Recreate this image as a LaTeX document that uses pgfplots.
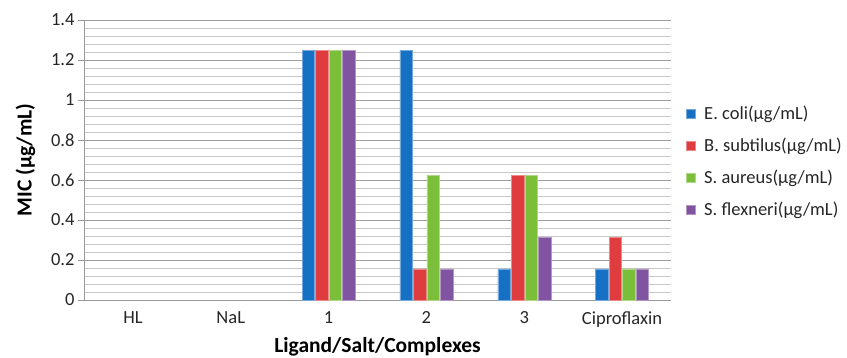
\documentclass[border=0pt]{standalone}
\usepackage{fontspec}
\setmainfont{Carlito}
\usepackage{pgfplots}
\pgfplotsset{compat=1.18}
\definecolor{cblue}{RGB}{22,112,196}
\definecolor{cred}{RGB}{222,60,62}
\definecolor{cgreen}{RGB}{122,190,58}
\definecolor{cpurple}{RGB}{128,84,160}
\begin{document}
\begin{tikzpicture}
\useasboundingbox (0,0) rectangle (847pt,357pt);
\begin{axis}[
  at={(84pt,57pt)}, anchor=south west,
  scale only axis, width=587pt, height=280pt,
  ybar=1pt, bar width=12.5pt,
  xmin=-0.5, xmax=5.5, ymin=0, ymax=1.4,
  xtick={0,1,2,3,4,5},
  xticklabels={HL,NaL,1,2,3,Ciproflaxin},
  ytick={0,0.2,...,1.4},
  minor ytick={0.04,0.08,...,1.39},
  yticklabel style={/pgf/number format/fixed, /pgf/number format/precision=1},
  /pgf/number format/assume math mode=true,
  ymajorgrids, yminorgrids,
  major grid style={draw=black!38, line width=0.8pt},
  minor grid style={draw=black!22, line width=0.7pt},
  axis x line*=bottom, axis y line*=left,
  axis line style={draw=black!40, line width=1pt},
  x axis line style={-}, y axis line style={-},
  xtick style={draw=none},
  ytick style={draw=black!40, line width=0.8pt},
  major tick length=6pt, minor tick length=0pt,
  tick align=outside,
  ticklabel style={font=\fontsize{18.5}{21}\selectfont, text=black!85},
  xticklabel style={yshift=-2pt},
  xlabel={\textbf{Ligand/Salt/Complexes}},
  ylabel={\textbf{MIC (μg/mL)}},
  label style={font=\fontsize{21.5}{24}\selectfont},
  xlabel style={yshift=-3pt},
  ylabel style={yshift=9pt},
  legend style={at={(1.02,0.705)}, anchor=north west, draw=none, fill=none,
    font=\fontsize{18.5}{22}\selectfont, row sep=15pt,
    nodes={inner sep=1pt, text=black!85}},
  legend cell align=left,
  legend image code/.code={\fill[#1] (0pt,-4.5pt) rectangle (9pt,4.5pt); \path (17pt,0pt);},
]
\addplot[fill=cblue, draw=cblue!60!white, line width=0.3pt] coordinates {(2,1.25) (3,1.25) (4,0.156) (5,0.156)};
\addplot[fill=cred, draw=cred!60!white, line width=0.3pt] coordinates {(2,1.25) (3,0.156) (4,0.625) (5,0.3125)};
\addplot[fill=cgreen, draw=cgreen!60!white, line width=0.3pt] coordinates {(2,1.25) (3,0.625) (4,0.625) (5,0.156)};
\addplot[fill=cpurple, draw=cpurple!60!white, line width=0.3pt] coordinates {(2,1.25) (3,0.156) (4,0.3125) (5,0.156)};
\legend{E. coli(μg/mL),B. subtilus(μg/mL),S. aureus(μg/mL),S. flexneri(μg/mL)}
\end{axis}
\end{tikzpicture}
\end{document}
